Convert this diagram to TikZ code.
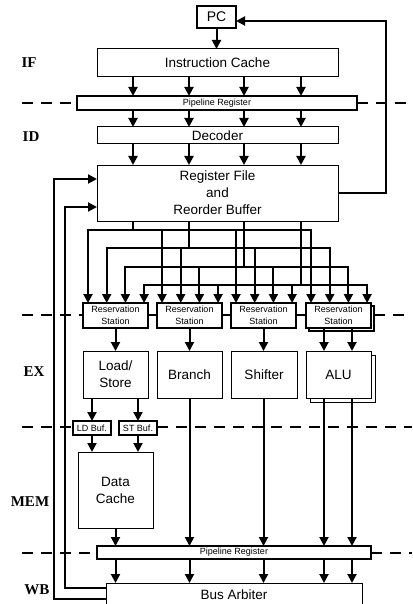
\documentclass[tikz,border=0pt]{standalone}
\usepackage{fontspec}
\setmainfont{Liberation Serif}
\setsansfont{Liberation Sans}
\usetikzlibrary{arrows.meta,calc,shadows}
\begin{document}
\begin{tikzpicture}[x=1pt,y=-1pt,
  box/.style={draw, line width=1pt, fill=white, inner sep=0pt, outer sep=0pt, align=center,
    anchor=north west, font=\sffamily\fontsize{13.5}{17}\selectfont},
  thickbox/.style={box, line width=1.8pt},
  regtext/.style={font=\sffamily\fontsize{9}{9}\selectfont},
  rstext/.style={font=\sffamily\fontsize{9}{12}\selectfont},
  stage/.style={font=\bfseries\fontsize{15}{15}\selectfont},
  wire/.style={line width=2pt},
  arr/.style={wire, -{Triangle[length=9pt,width=9pt]}},
  stagesep/.style={line width=1.1pt, dash pattern=on 11pt off 8pt}
]
\useasboundingbox (0,0) rectangle (412,604);

% column x positions
\coordinate (a1) at (133,0);
\coordinate (a2) at (189,0);
\coordinate (a3) at (244,0);
\coordinate (a4) at (301,0);
\coordinate (lx) at (22,0);
\coordinate (rx) at (412,0);

% nodes
\node[thickbox, minimum width=39pt, minimum height=22pt, font=\sffamily\fontsize{14}{14}\selectfont] (pc) at (197,6) {PC};
\node[box, minimum width=241pt, minimum height=28pt] (ic) at (97,49) {Instruction Cache};
\node[thickbox, minimum width=280pt, minimum height=14pt, regtext] (pr1) at (77,96) {Pipeline Register};
\node[box, minimum width=241pt, minimum height=17pt] (dec) at (97,127) {Decoder};
\node[box, minimum width=241pt, minimum height=56pt] (rf) at (97,165) {Register File\\and\\Reorder Buffer};

\node[thickbox, minimum width=65pt, minimum height=25pt, rstext] (rs1) at (83,303) {Reservation\\Station};
\node[thickbox, minimum width=65pt, minimum height=25pt, rstext] (rs2) at (157,303) {Reservation\\Station};
\node[thickbox, minimum width=65pt, minimum height=25pt, rstext] (rs3) at (231,303) {Reservation\\Station};
\node[thickbox, minimum width=65pt, minimum height=25pt, rstext,
  copy shadow={shadow xshift=3pt, shadow yshift=-3pt, line width=1.8pt}] (rs4) at (306,303) {Reservation\\Station};

\node[box, minimum width=65pt, minimum height=47pt] (ls) at (83,351) {Load/\\Store};
\node[box, minimum width=65pt, minimum height=47pt] (br) at (157,351) {Branch};
\node[box, minimum width=66pt, minimum height=47pt] (sh) at (231,351) {Shifter};
\node[box, minimum width=65pt, minimum height=47pt,
  copy shadow={shadow xshift=4pt, shadow yshift=-4pt, line width=1pt}] (alu) at (306,351) {ALU};

\node[thickbox, minimum width=38pt, minimum height=14pt, regtext] (ld) at (73,421) {LD Buf.};
\node[thickbox, minimum width=38pt, minimum height=14pt, regtext] (st) at (119,421) {ST Buf.};
\node[box, minimum width=75pt, minimum height=76pt] (dc) at (78,452) {Data\\Cache};
\node[thickbox, minimum width=274pt, minimum height=13pt, regtext] (pr2) at (97,546) {Pipeline Register};
\node[box, minimum width=256pt, minimum height=23pt] (ba) at (106,583) {Bus Arbiter};

% stage labels
\node[stage] (lif) at (29,63) {IF};
\node[stage] (lid) at (31,137) {ID};
\node[stage] (lex) at (34,372) {EX};
\node[stage] (lmem) at (30,502) {MEM};
\node[stage] (lwb) at (37,590) {WB};

% stage separators
\draw[stagesep] (lx |- pr1.west) -- (pr1.west);
\draw[stagesep] (pr1.east) -- (rx |- pr1.east);
\coordinate (yrs) at (0,315);
\draw[stagesep] (lx |- yrs) -- (rs1.west |- yrs);
\draw[stagesep] ([xshift=3pt]rs4.east |- yrs) -- (rx |- yrs);
\draw[line width=1.1pt] (rs1.east |- yrs) -- (rs2.west |- yrs);
\draw[line width=1.1pt] (rs2.east |- yrs) -- (rs3.west |- yrs);
\draw[line width=1.1pt] (rs3.east |- yrs) -- (rs4.west |- yrs);
\coordinate (ybuf) at (0,427);
\draw[stagesep] (lx |- ybuf) -- (ld.west |- ybuf);
\draw[stagesep] (st.east |- ybuf) -- (rx |- ybuf);
\coordinate (ypr2) at (0,553);
\draw[stagesep] (lx |- ypr2) -- (pr2.west |- ypr2);
\draw[stagesep] (pr2.east |- ypr2) -- (rx |- ypr2);

% PC to instruction cache
\draw[arr] (pc.south) -- (pc.south |- ic.north);
% front-end columns
\foreach \c in {a1,a2,a3,a4} {
  \draw[arr] (\c |- ic.south) -- (\c |- pr1.north);
  \draw[arr] (\c |- pr1.south) -- (\c |- dec.north);
  \draw[arr] (\c |- dec.south) -- (\c |- rf.north);
}

% feedback RF -> PC
\coordinate (xr) at (386,0);
\draw[arr] (rf.east) -| (xr |- 0,21) -- ([yshift=-4pt]pc.east);

% feedback bus arbiter -> RF
\coordinate (xo) at (54,0);
\coordinate (xi) at (65,0);
\coordinate (yo) at (0,599);
\coordinate (yi) at (0,588);
\coordinate (yr1) at (0,179);
\coordinate (yr2) at (0,207);
\draw[arr] (ba.west |- yo) -| (xo |- yr1) -- (rf.west |- yr1);
\draw[arr] (ba.west |- yi) -| (xi |- yr2) -- (rf.west |- yr2);

% distribution buses
\foreach \k/\yb/\c in {0/230/a1, 1/248/a2, 2/267/a3, 3/285/a4} {
  \coordinate (yb) at (0,\yb);
  \coordinate (d1) at ($(rs1.north west)+({5+18.7*\k},0)$);
  \coordinate (d4) at ($(rs4.north west)+({5+18.7*\k},0)$);
  \draw[wire] (\c |- rf.south) -- (\c |- yb);
  \draw[wire] ([xshift=-1pt]d1 |- yb) -- ([xshift=1pt]d4 |- yb);
  \foreach \r in {rs1,rs2,rs3,rs4} {
    \coordinate (d) at ($(\r.north west)+({5+18.7*\k},0)$);
    \draw[arr] (d |- yb) -- (d);
  }
}

% RS -> functional units
\draw[arr] (rs1.south) -- (ls.north);
\draw[arr] (rs2.south) -- (br.north);
\draw[arr] (rs3.south) -- (rs3.south |- sh.north);
\coordinate (u1) at (324,0);
\coordinate (u2) at (352,0);
\draw[arr] (u1 |- rs4.south) -- (u1 |- alu.north);
\draw[arr] (u2 |- rs4.south) -- (u2 |- alu.north);

% load/store path
\draw[arr] (ld.north |- ls.south) -- (ld.north);
\draw[arr] (st.north |- ls.south) -- (st.north);
\draw[arr] (ld.south) -- (ld.south |- dc.north);
\draw[arr] (st.south) -- (st.south |- dc.north);
\draw[arr] (dc.south) -- (dc.south |- pr2.north);

% other units -> pipeline register
\draw[arr] (br.south) -- (br.south |- pr2.north);
\draw[arr] (rs3.south |- sh.south) -- (rs3.south |- pr2.north);
\draw[arr] (u1 |- alu.south) -- (u1 |- pr2.north);
\draw[arr] (u2 |- alu.south) -- (u2 |- pr2.north);

% pipeline register -> bus arbiter
\foreach \c in {dc, br, rs3} {
  \draw[arr] (\c.south |- pr2.south) -- (\c.south |- ba.north);
}
\draw[arr] (u1 |- pr2.south) -- (u1 |- ba.north);
\draw[arr] (u2 |- pr2.south) -- (u2 |- ba.north);
\end{tikzpicture}
\end{document}
